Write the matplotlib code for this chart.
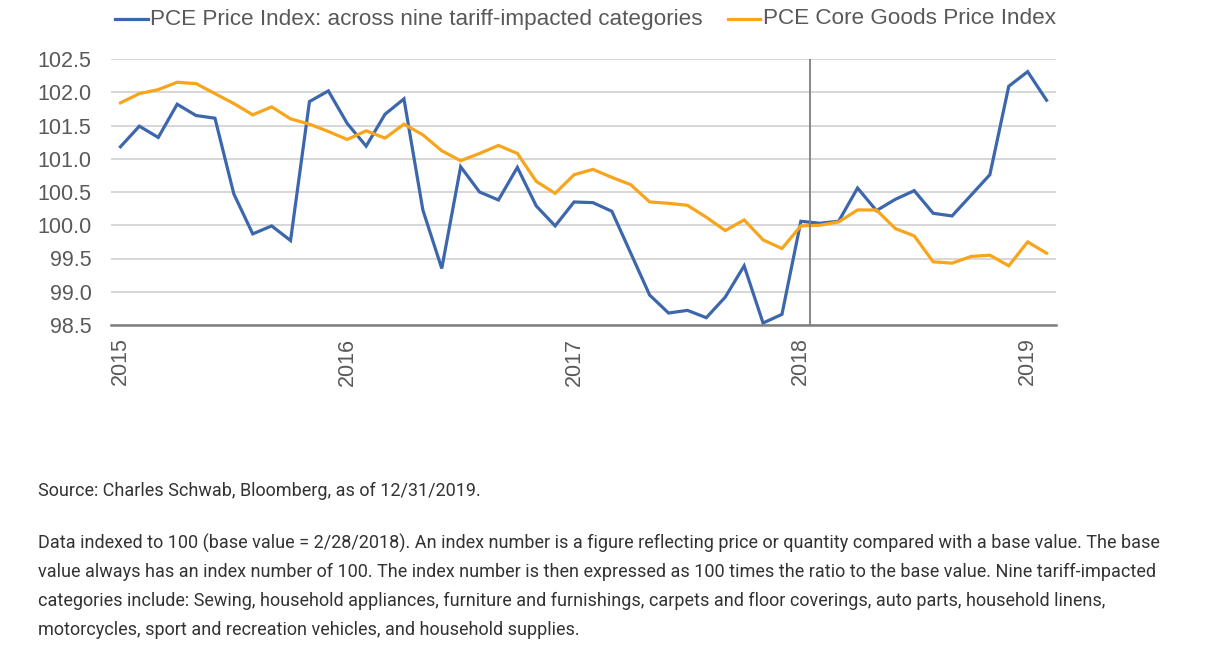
import matplotlib
matplotlib.use("Agg")
import matplotlib.pyplot as plt

# monthly values, Jan 2015 .. Feb 2019
tariff_idx = [101.18, 101.49, 101.32, 101.82, 101.65, 101.61, 100.47, 99.87, 99.99, 99.77,
              101.86, 102.02, 101.53, 101.19, 101.67, 101.90, 100.23, 99.35, 100.88, 100.50,
              100.38, 100.87, 100.29, 99.99, 100.35, 100.34, 100.21, 99.58, 98.95, 98.68,
              98.72, 98.61, 98.92, 99.39, 98.53, 98.66, 100.06, 100.03, 100.06, 100.56,
              100.22, 100.39, 100.52, 100.18, 100.14, 100.45, 100.76, 102.09, 102.31, 101.88]
core_goods = [101.84, 101.98, 102.04, 102.15, 102.13, 101.98, 101.83, 101.66, 101.78, 101.60,
              101.52, 101.41, 101.29, 101.42, 101.31, 101.52, 101.36, 101.12, 100.97, 101.08,
              101.20, 101.08, 100.66, 100.48, 100.76, 100.84, 100.72, 100.61, 100.35, 100.33,
              100.30, 100.12, 99.92, 100.08, 99.78, 99.65, 99.99, 100.00, 100.05, 100.23,
              100.23, 99.95, 99.84, 99.45, 99.43, 99.53, 99.55, 99.39, 99.75, 99.58]
years = ["2015", "2016", "2017", "2018", "2019"]
yticks = [98.5, 99.0, 99.5, 100.0, 100.5, 101.0, 101.5, 102.0, 102.5]

blue = "#3d67ad"
orange = "#f8a51c"
grey_txt = "#595959"

fig = plt.figure(figsize=(12.07, 6.52), dpi=100)
ax = fig.add_axes([111 / 1207, 1 - 325 / 652, (1056 - 111) / 1207, (325 - 59) / 652])

x = list(range(len(tariff_idx)))
ax.plot(x, tariff_idx, color=blue, lw=2.3, solid_joinstyle="miter")
ax.plot(x, core_goods, color=orange, lw=2.3, solid_joinstyle="miter")

ax.set_xlim(-0.5, len(x) - 0.5)
ax.set_ylim(98.5, 102.5)
ax.set_yticks(yticks)
ax.set_yticklabels([f"{v:.1f}" for v in yticks])
ax.set_xticks(range(0, len(x), 12))
ax.set_xticklabels(years, rotation=90, va="top")
ax.grid(axis="y", color="#d4d4d4", lw=1.3)
ax.set_axisbelow(True)
ax.axvline(36.5, color="#7f7f7f", lw=1.3)

for s in ["top", "right", "left"]:
    ax.spines[s].set_visible(False)
ax.spines["bottom"].set_color("#7f7f7f")
ax.spines["bottom"].set_linewidth(1.8)
ax.tick_params(axis="both", length=0, labelcolor=grey_txt, labelsize=15.5)
ax.tick_params(axis="y", pad=14)
ax.tick_params(axis="x", pad=9)
for lab in ax.get_xticklabels() + ax.get_yticklabels():
    lab.set_family("Liberation Sans")

# legend drawn across the top
fig.add_artist(plt.Line2D([115 / 1207, 148 / 1207], [1 - 19 / 652] * 2, color=blue, lw=2.3))
fig.text(150 / 1207, 1 - 19 / 652, "PCE Price Index: across nine tariff-impacted categories",
         color=grey_txt, fontsize=16.2, family="Liberation Sans", va="center")
fig.add_artist(plt.Line2D([728 / 1207, 760 / 1207], [1 - 19 / 652] * 2, color=orange, lw=2.3))
fig.text(763 / 1207, 1 - 19 / 652, "PCE Core Goods Price Index",
         color=grey_txt, fontsize=16.2, family="Liberation Sans", va="center")

# notes below the chart
notes = [
    (491, "Source: Charles Schwab, Bloomberg, as of 12/31/2019."),
    (543, "Data indexed to 100 (base value = 2/28/2018). An index number is a figure reflecting price or quantity compared with a base value. The base"),
    (572, "value always has an index number of 100. The index number is then expressed as 100 times the ratio to the base value. Nine tariff-impacted"),
    (601, "categories include: Sewing, household appliances, furniture and furnishings, carpets and floor coverings, auto parts, household linens,"),
    (630, "motorcycles, sport and recreation vehicles, and household supplies."),
]
for ypx, line in notes:
    fig.text(38 / 1207, 1 - ypx / 652, line, color="#333333", fontsize=13,
             family="Roboto", va="center")

fig.savefig("out.png", dpi=100)
